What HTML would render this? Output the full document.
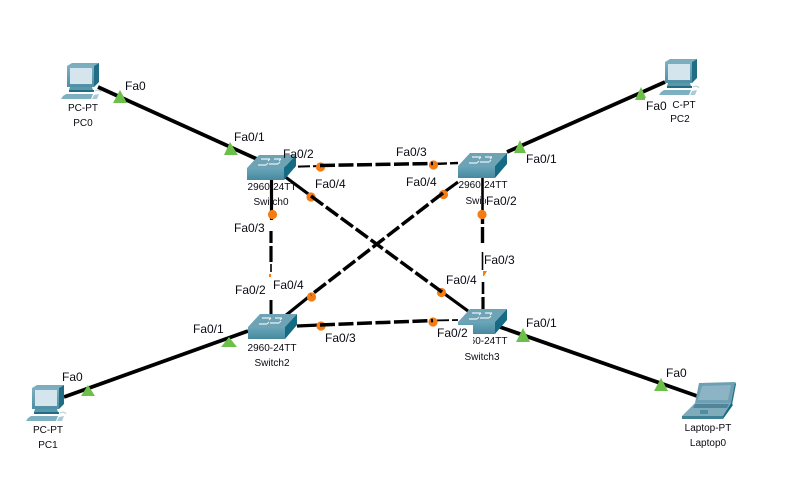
<!DOCTYPE html>
<html>
<head>
<meta charset="utf-8">
<style>
html,body{margin:0;padding:0;background:#fff;width:791px;height:477px;overflow:hidden}
svg{display:block}
text{font-family:"Liberation Sans",Arial,sans-serif;fill:#0a0a14}
.p{font-size:12px}
.d{font-size:10px;text-anchor:middle}
</style>
</head>
<body>
<svg width="791" height="477" viewBox="0 0 791 477" xmlns="http://www.w3.org/2000/svg">
<defs>
<linearGradient id="mon" x1="0" y1="0" x2="0" y2="1"><stop offset="0" stop-color="#7db0c1"/><stop offset="1" stop-color="#4f8ea4"/></linearGradient>
<linearGradient id="swf" x1="0" y1="0" x2="0" y2="1"><stop offset="0" stop-color="#6aa5b9"/><stop offset="1" stop-color="#47899f"/></linearGradient>
<g id="pc">
  <polygon points="1,3 6,0 33,0 28,3" fill="#7dacbc"/>
  <polygon points="28,3 33,0 33,19 28,24" fill="#1f6e85"/>
  <rect x="1" y="3" width="27" height="21" fill="url(#mon)"/>
  <rect x="4" y="5" width="22" height="16" fill="#d5e5ed"/>
  <polygon points="4,24 26,24 27,27 3,27" fill="#5a97ab"/>
  <polygon points="3,27 28,27 28,29 3,29" fill="#1f6e85"/>
  <polygon points="0,31 27,31 25,36 -5,36 -3,33" fill="#7db0c0"/>
  <polygon points="28,32 33,31 31,36 26,36" fill="#a9cad5"/>
  <path d="M29 28 q4 -2 6 1" fill="none" stroke="#b8cdd6" stroke-width="1"/>
</g>
<g id="sw">
  <polygon points="0,13 12,0 49,0 37,13" fill="#6ea3b5"/>
  <polygon points="37,13 49,0 49,11 37,25" fill="#156b84"/>
  <rect x="0" y="13" width="37" height="12" fill="url(#swf)"/>
  <path d="M11 10 h8 M14 4 h9 M22 9 h9 M27 4 h7" stroke="#e8f2f5" stroke-width="1.2" fill="none"/>
  <path d="M19 10 l2 -2 M23 4 l-2 2 M31 9 l2 -2 M34 4 l-2 2" stroke="#e8f2f5" stroke-width="1" fill="none"/>
</g>
</defs>

<!-- solid links -->
<g stroke="#000" stroke-width="3.8" fill="none">
  <line x1="98" y1="87" x2="259" y2="160"/>
  <line x1="665" y1="82" x2="507" y2="152"/>
  <line x1="64" y1="397" x2="248" y2="331"/>
  <line x1="500" y1="327" x2="697" y2="396"/>
</g>

<!-- under-dot link ends -->
<g stroke="#000" fill="none">
  <line x1="283" y1="167" x2="320" y2="166" stroke-width="2" stroke-dasharray="12 3"/>
  <line x1="433" y1="164" x2="458" y2="163" stroke-width="2.4" stroke-dasharray="14 3"/>
  <line x1="280" y1="173" x2="311" y2="196" stroke-width="3.2"/>
  <line x1="458" y1="182" x2="443" y2="193" stroke-width="3.2"/>
  <line x1="442" y1="292" x2="468" y2="311" stroke-width="3.2"/>
  <line x1="311" y1="295" x2="285" y2="316" stroke-width="3.2"/>
  <line x1="297" y1="326" x2="320" y2="325" stroke-width="3.2"/>
  <line x1="433" y1="320.5" x2="458" y2="320" stroke-width="1.8" stroke-dasharray="16 3"/>
  <!-- left vertical -->
  <line x1="271.5" y1="180" x2="271.5" y2="220" stroke-width="3.2"/>
  <line x1="271" y1="231" x2="271" y2="243" stroke-width="3.2"/>
  <line x1="271" y1="246" x2="271" y2="262" stroke-width="3.2"/>
  <line x1="271" y1="264" x2="271" y2="272" stroke-width="1.6"/>
  <line x1="271" y1="300" x2="271" y2="314" stroke-width="3"/>
  <!-- right vertical -->
  <line x1="482.5" y1="177" x2="482.5" y2="214" stroke-width="2.6"/>
  <line x1="482.5" y1="214" x2="482.5" y2="224" stroke-width="3.4"/>
  <line x1="482.5" y1="227" x2="482.5" y2="243" stroke-width="3.4"/>
  <line x1="482.5" y1="252" x2="482.5" y2="270" stroke-width="1.6"/>
  <line x1="483" y1="282" x2="483" y2="294" stroke-width="2.6"/>
  <line x1="483" y1="297" x2="483" y2="310" stroke-width="3.2"/>
</g>

<!-- orange link lights -->
<g fill="#f57c12">
  <circle cx="320.5" cy="167" r="4.6"/>
  <circle cx="433.5" cy="165" r="4.6"/>
  <circle cx="311" cy="197" r="4.6"/>
  <circle cx="443.5" cy="194.5" r="4.6"/>
  <circle cx="272.5" cy="214.5" r="4.6"/>
  <circle cx="482" cy="214.5" r="4.6"/>
  <circle cx="311.5" cy="297" r="4.6"/>
  <circle cx="441.5" cy="292.5" r="4.6"/>
  <circle cx="321" cy="326" r="4.6"/>
  <circle cx="433" cy="322" r="4.6"/>
  <rect x="269" y="274" width="2" height="3"/>
  <polygon points="483,271 487,271 484,276 483,276"/>
</g>

<!-- thick dashed sections between the lights -->
<g stroke="#000" stroke-width="3.5" fill="none" stroke-dasharray="15 3.5">
  <line x1="320" y1="165.5" x2="433" y2="163.5"/>
  <line x1="311" y1="196" x2="442" y2="292"/>
  <line x1="443" y1="193" x2="311" y2="295"/>
  <line x1="320" y1="325" x2="433" y2="320.5"/>
</g>

<!-- green link lights -->
<g fill="#6cc04a">
  <polygon points="120,90 113,103 127,103"/>
  <polygon points="230,142 224,155 238,155"/>
  <polygon points="520,140 514,153 526,153"/>
  <polygon points="641,87 635,100 647,100"/>
  <polygon points="88,385 81,396 95,396"/>
  <polygon points="229,337 221,347 237,347"/>
  <polygon points="523,328 516,342 530,342"/>
  <polygon points="661,378 654,391 668,391"/>
</g>

<!-- devices -->
<use href="#pc" x="66" y="63"/>
<use href="#pc" x="31" y="385"/>
<use href="#pc" x="664" y="59"/>
<use href="#sw" x="247" y="155"/>
<use href="#sw" x="458" y="153"/>
<use href="#sw" x="248" y="314"/>
<use href="#sw" x="458" y="309"/>

<!-- laptop -->
<polygon points="699,383 735,382 731,403 695,403" fill="#6f9fb2"/>
<polygon points="702,386 731,385 728,400 698,400" fill="#8cb4c4"/>
<polygon points="735,382 736,384 732,405 731,403" fill="#1f6e85"/>
<polygon points="695,403 731,403 723,416 682,416" fill="#7fabbb"/>
<polygon points="695,404 729,404 727,408 693,408" fill="#4f8499"/>
<polygon points="682,416 723,416 723,419 682,419" fill="#3f8298"/>
<polygon points="723,416 731,403 733,405 723,419" fill="#156b84"/>
<rect x="700" y="410" width="8" height="4" fill="#4f8da2"/>

<!-- device labels -->
<text class="d" x="83" y="111">PC-PT</text>
<text class="d" x="83" y="126">PC0</text>
<text class="d" x="48" y="433">PC-PT</text>
<text class="d" x="48" y="448">PC1</text>
<text class="d" x="684" y="108">C-PT</text>
<text class="d" x="680" y="122">PC2</text>
<text class="d" x="708" y="431">Laptop-PT</text>
<text class="d" x="708" y="446">Laptop0</text>
<text class="d" x="272" y="190">2960-24TT</text>
<text class="d" x="271" y="205">Switch0</text>
<text class="d" x="483" y="188">2960-24TT</text>
<text class="d" x="483" y="204">Switch1</text>
<text class="d" x="272" y="351">2960-24TT</text>
<text class="d" x="272" y="366">Switch2</text>
<text class="d" x="483" y="344">2960-24TT</text>
<text class="d" x="482" y="360">Switch3</text>

<!-- port label backgrounds -->
<g fill="#fff">
  <rect x="486" y="193" width="34" height="16"/>
  <rect x="437" y="325" width="36" height="20"/>
  <rect x="645" y="98" width="26" height="15"/>
</g>

<!-- port labels -->
<text class="p" x="125" y="90">Fa0</text>
<text class="p" x="234" y="141">Fa0/1</text>
<text class="p" x="283" y="158">Fa0/2</text>
<text class="p" x="396" y="156">Fa0/3</text>
<text class="p" x="315" y="188">Fa0/4</text>
<text class="p" x="406" y="186">Fa0/4</text>
<text class="p" x="526" y="163">Fa0/1</text>
<text class="p" x="486" y="205">Fa0/2</text>
<text class="p" x="234" y="232">Fa0/3</text>
<text class="p" x="484" y="264">Fa0/3</text>
<text class="p" x="446" y="284">Fa0/4</text>
<text class="p" x="235" y="294">Fa0/2</text>
<text class="p" x="273" y="289">Fa0/4</text>
<text class="p" x="193" y="333">Fa0/1</text>
<text class="p" x="526" y="327">Fa0/1</text>
<text class="p" x="325" y="342">Fa0/3</text>
<text class="p" x="437" y="337">Fa0/2</text>
<text class="p" x="62" y="381">Fa0</text>
<text class="p" x="666" y="377">Fa0</text>
<text class="p" x="646" y="110">Fa0</text>
</svg>
</body>
</html>
